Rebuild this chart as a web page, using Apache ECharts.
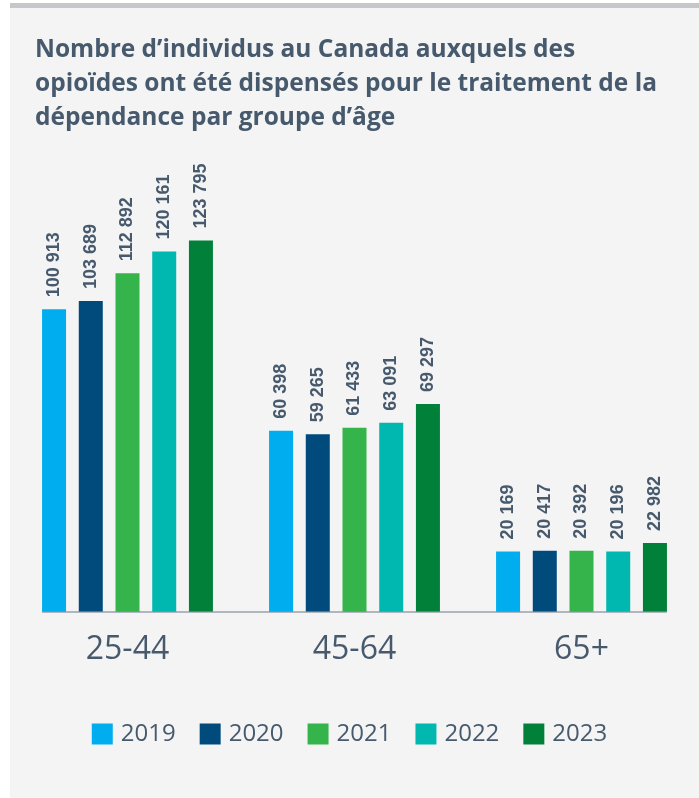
<!DOCTYPE html>
<html>
<head>
<meta charset="utf-8">
<script src="https://cdn.jsdelivr.net/npm/echarts@6/dist/echarts.min.js"></script>
<style>
  html, body { margin: 0; padding: 0; background: #ffffff; }
  .panel {
    position: absolute; left: 10px; top: 3px; width: 689px; height: 790px;
    background: #f4f4f4; border-top: 5px solid #c6c6cb;
  }
  #chart { position: absolute; left: 0; top: 0; width: 699px; height: 798px; }
</style>
</head>
<body>
<div class="panel"></div>
<div id="chart"></div>
<script>
const ageGroups = ['25-44', '45-64', '65+']
const years = ['2019', '2020', '2021', '2022', '2023']
const values2019 = [100913, 60398, 20169]
const values2020 = [103689, 59265, 20417]
const values2021 = [112892, 61433, 20392]
const values2022 = [120161, 63091, 20196]
const values2023 = [123795, 69297, 22982]
const yearColors = ['#00aeef', '#004a7c', '#34b44a', '#00b8b0', '#008038']

const textColor = '#475a6d'
const seriesValues = [values2019, values2020, values2021, values2022, values2023]
const fmt = v => String(v).replace(/\B(?=(\d{3})+(?!\d))/g, ' ')

const myChart = echarts.init(document.getElementById('chart'))
myChart.setOption({
  backgroundColor: 'transparent',
  animation: false,
  title: {
    text: 'Nombre d\u2019individus au Canada auxquels des\nopioïdes ont été dispensés pour le traitement de la\ndépendance par groupe d\u2019âge',
    left: 35,
    top: 33,
    padding: 0,
    textStyle: {
      fontFamily: 'Open Sans',
      fontWeight: 'bold',
      fontSize: 24.5,
      lineHeight: 34,
      color: textColor
    }
  },
  legend: {
    bottom: 47,
    left: 'center',
    itemWidth: 21,
    itemHeight: 21,
    itemGap: 24,
    icon: 'rect',
    textStyle: { fontFamily: 'Open Sans', fontSize: 24, color: textColor, padding: [0, 0, 0, 3] },
    data: years
  },
  grid: {
    left: 14,
    right: 4,
    top: 162,
    bottom: 186,
    containLabel: false
  },
  xAxis: {
    type: 'category',
    data: ageGroups,
    axisLine: { show: false },
    axisTick: { show: false },
    axisLabel: {
      fontFamily: 'Open Sans',
      fontSize: 32,
      color: textColor,
      margin: 22
    }
  },
  yAxis: {
    type: 'value',
    min: 0,
    max: 150000,
    show: false
  },
  series: years.map((y, i) => ({
    name: y,
    type: 'bar',
    data: seriesValues[i],
    barWidth: 24,
    barGap: '53%',
    itemStyle: { color: yearColors[i] },
    label: {
      show: true,
      position: 'top',
      rotate: 90,
      align: 'left',
      verticalAlign: 'middle',
      distance: 12,
      fontFamily: 'Liberation Sans',
      fontWeight: 'bold',
      fontSize: 18,
      color: textColor,
      formatter: p => fmt(p.value)
    }
  }))
})

// baseline drawn only under the bars, from the first bar to the last one
const firstBar = myChart.getModel().getSeriesByIndex(0).getData().getItemLayout(0)
const lastBar = myChart.getModel().getSeriesByIndex(years.length - 1).getData().getItemLayout(ageGroups.length - 1)
const baseY = myChart.convertToPixel({ yAxisIndex: 0 }, 0)
myChart.setOption({
  graphic: [{
    type: 'line',
    z: 100,
    shape: { x1: firstBar.x, y1: baseY, x2: lastBar.x + lastBar.width, y2: baseY },
    style: { stroke: '#8a939d', lineWidth: 1.5, opacity: 0.85 }
  }]
})
</script>
</body>
</html>
